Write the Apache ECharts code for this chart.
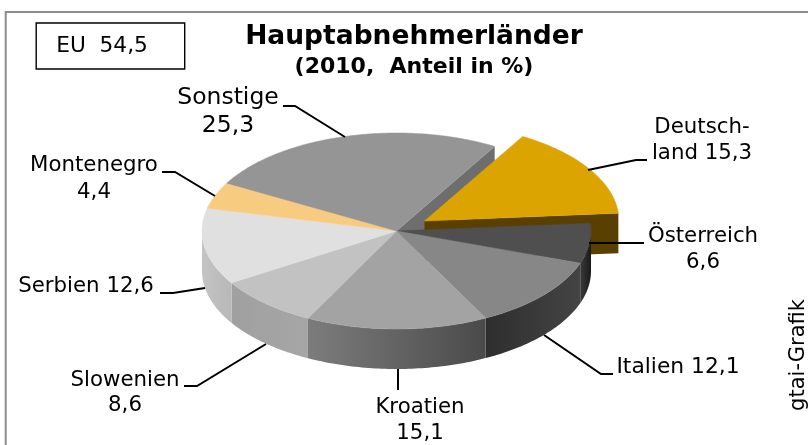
<!DOCTYPE html>
<html>
<head>
<meta charset="utf-8">
<style>
html, body { margin: 0; padding: 0; background: #fff; }
#main { width: 808px; height: 445px; }
</style>
<script src="https://cdn.jsdelivr.net/npm/echarts@6/dist/echarts.min.js"></script>
</head>
<body>
<div id="main"></div>
<script>
// im Uhrzeigersinn, beginnend bei Oesterreich
var names = ['Österreich', 'Italien', 'Kroatien', 'Slowenien', 'Serbien', 'Montenegro', 'Sonstige', 'Deutschland'];
var shares = [6.6, 12.1, 15.1, 8.6, 12.6, 4.4, 25.3, 15.3];

var topColors = ['#4f4f4f', '#878787', '#a3a3a3', '#c2c2c2', '#e0e0e0', '#f8cc80', '#959595', '#dca400'];
var sideLeft = ['#3a3a3a', '#2e2e2e', '#7c7c7c', '#a0a0a0', '#c4c4c4', '#f0c070', '#6e6e6e', '#5a4000'];
var sideRight = ['#1a1a1a', '#444444', '#4a4a4a', '#a6a6a6', '#b8b8b8', '#f0c070', '#6e6e6e', '#5a4000'];

var cx = 396.5, cy = 231, rx = 194.5, ry = 98, depth = 40;
var startAngle = -4.6;
var explodeIndex = 7, explodeX = 28, explodeY = -10;

function point(t, dx, dy) {
    var a = t * Math.PI / 180;
    return [cx + dx + rx * Math.cos(a), cy + dy + ry * Math.sin(a)];
}

function arc(from, to, dx, dy) {
    var pts = [];
    var n = Math.max(2, Math.ceil(Math.abs(to - from)));
    for (var i = 0; i <= n; i++) {
        pts.push(point(from + (to - from) * i / n, dx, dy));
    }
    return pts;
}

function renderSlice(params, api) {
    var idx = params.dataIndex;
    var before = 0;
    for (var i = 0; i < idx; i++) {
        before += shares[i];
    }
    var t0 = startAngle + before * 3.6;
    var t1 = t0 + api.value(0) * 3.6;
    var dx = idx === explodeIndex ? explodeX : 0;
    var dy = idx === explodeIndex ? explodeY : 0;
    var children = [];

    // Seitenwand vorne
    var a = Math.max(t0, 0), b = Math.min(t1, 180);
    if (b > a) {
        var upper = arc(a, b, dx, dy);
        var lower = arc(b, a, dx, dy + depth);
        children.push({
            type: 'polygon',
            z2: 3,
            shape: {points: upper.concat(lower)},
            style: {
                fill: new echarts.graphic.LinearGradient(0, 0, 1, 0, [
                    {offset: 0, color: sideLeft[idx]},
                    {offset: 1, color: sideRight[idx]}
                ]),
                stroke: null
            }
        });
    }

    // Schnittflaeche, nur bei Sonstige und Deutschland sichtbar
    if (idx === explodeIndex || idx === explodeIndex - 1) {
        var edge = point(t1, dx, dy);
        children.push({
            type: 'polygon',
            z2: idx === explodeIndex ? 2 : 1,
            shape: {
                points: [
                    [cx + dx, cy + dy],
                    edge,
                    [edge[0], edge[1] + depth],
                    [cx + dx, cy + dy + depth]
                ]
            },
            style: {fill: sideLeft[idx], stroke: null}
        });
    }

    // Deckflaeche
    children.push({
        type: 'polygon',
        z2: idx === explodeIndex ? 2 : 4,
        shape: {points: [[cx + dx, cy + dy]].concat(arc(t0, t1, dx, dy))},
        style: {fill: topColors[idx], stroke: topColors[idx], lineWidth: 0.5}
    });

    return {type: 'group', children: children};
}

function label(text, x, y, size) {
    return {
        type: 'text',
        x: x,
        y: y,
        z: 10,
        style: {
            text: text,
            font: (size || 21.3) + 'px "DejaVu Sans", Verdana, sans-serif',
            fill: '#000',
            textAlign: 'center',
            textVerticalAlign: 'middle'
        }
    };
}

function leader(points) {
    return {
        type: 'polyline',
        z: 9,
        shape: {points: points},
        style: {stroke: '#000', lineWidth: 2, fill: null}
    };
}

var myChart = echarts.init(document.getElementById('main'), null, {renderer: 'canvas'});

var option = {
    animation: false,
    backgroundColor: '#fff',
    title: {
        text: 'Hauptabnehmerländer',
        subtext: '(2010,  Anteil in %)',
        left: 409,
        top: 19,
        textAlign: 'center',
        itemGap: 5,
        textStyle: {fontFamily: 'DejaVu Sans', fontWeight: 'bold', fontSize: 26.5, color: '#000'},
        subtextStyle: {fontFamily: 'DejaVu Sans', fontWeight: 'bold', fontSize: 22, color: '#000'}
    },
    graphic: [
        // Rahmen, rechts und unten abgeschnitten
        {type: 'polyline', shape: {points: [[5.7, 445], [5.7, 12], [808, 12]]}, style: {stroke: '#8c8c8c', lineWidth: 2, fill: null}},
        {type: 'rect', shape: {x: 36.2, y: 23, width: 148.5, height: 46}, style: {stroke: '#000', lineWidth: 1.4, fill: '#fff'}},
        label('EU  54,5', 102, 46, 21.7),

        label('Sonstige', 228, 98, 23.5),
        label('25,3', 228, 126, 23.5),
        leader([[283, 106], [295, 106], [345, 137]]),

        label('Montenegro', 94, 165),
        label('4,4', 94, 192),
        leader([[162, 172], [175, 172], [215, 196]]),

        label('Deutsch-', 702, 127),
        label('land 15,3', 702, 153),
        leader([[647, 160], [636, 160], [588, 170]]),

        label('Österreich', 703, 236),
        label('6,6', 703, 262),
        leader([[644, 243], [589, 243]]),

        label('Italien 12,1', 678, 367, 21.8),
        leader([[613, 374], [601, 374], [544, 335]]),

        label('Kroatien', 420, 407),
        label('15,1', 420, 433),
        leader([[398, 369], [398, 390]]),

        label('Slowenien', 125, 380),
        label('8,6', 125, 405),
        leader([[184, 386], [197, 386], [266, 344]]),

        label('Serbien 12,6', 86, 286),
        leader([[160, 293], [173, 293], [205, 288]]),

        {
            type: 'text',
            x: 799,
            y: 355,
            rotation: Math.PI / 2,
            z: 10,
            style: {text: 'gtai-Grafik', font: '21px "DejaVu Sans", Verdana, sans-serif', fill: '#000', textAlign: 'center', textVerticalAlign: 'middle'}
        }
    ],
    series: [
        {
            type: 'custom',
            coordinateSystem: 'none',
            silent: true,
            renderItem: renderSlice,
            encode: {value: 0},
            data: shares.map(function (v, i) {
                return {name: names[i], value: [v]};
            })
        }
    ]
};

myChart.setOption(option);
</script>
</body>
</html>
